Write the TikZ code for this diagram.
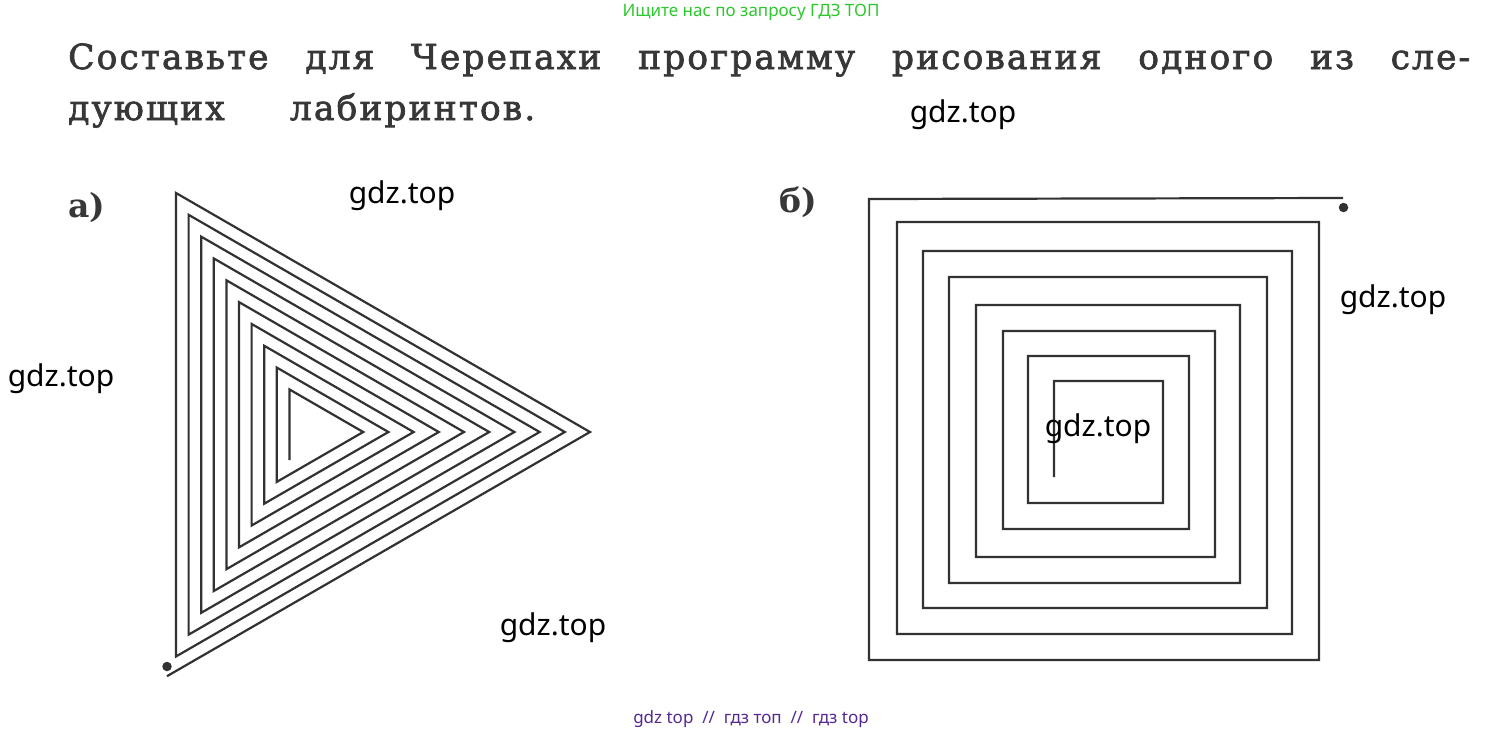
\documentclass[tikz,border=0pt]{standalone}
\usepackage{fontspec}
\setmainfont{DejaVu Serif}
\newfontfamily\titlefont[LetterSpace=6, FakeBold=2]{DejaVu Serif}
\newfontfamily\wmfont{Noto Sans}
\definecolor{ink}{RGB}{55,55,55}
\definecolor{mazecol}{RGB}{50,50,50}
\definecolor{wmgreen}{RGB}{45,200,45}
\definecolor{wmpurple}{RGB}{85,40,145}
\tikzset{
  mazeline/.style={draw=mazecol, line width=2.2pt, line join=miter},
  turtle/.style={circle, fill=mazecol, inner sep=0pt, minimum size=9.5pt},
  wm/.style={font=\wmfont\fontsize{30}{34}\selectfont, text=black, inner sep=0pt},
  titletext/.style={font=\titlefont\fontsize{34.5}{40}\selectfont, text=ink, inner sep=0pt, anchor=base west},
  itemlabel/.style={font=\bfseries\fontsize{33}{40}\selectfont, text=ink, inner sep=0pt, anchor=base west},
}
\begin{document}
\begin{tikzpicture}[x=1pt,y=-1pt]
\useasboundingbox[fill=white] (0,0) rectangle (1504,734);

% header watermark
\node[font=\wmfont\fontsize{17}{20}\selectfont, text=wmgreen, inner sep=0pt] (top) at (751,12) {Ищите нас по запросу ГДЗ ТОП};

% task text
\node[titletext] (l1) at (68,69) {\makebox[1402pt][s]{Составьте для Черепахи программу рисования одного из сле-}};
\node[titletext] (l2) at (68,120) {\makebox[467pt][s]{дующих лабиринтов.}};

\node[itemlabel] (la) at (68,217) {а)};
\node[itemlabel] (lb) at (779,212) {б)};

% triangle spiral
\foreach \k in {0,...,9} {
  \pgfmathsetmacro\xl{176+12.6*\k}
  \pgfmathsetmacro\xa{590-25.2*\k}
  \pgfmathsetmacro\yt{432-(\xa-\xl)*0.57735}
  \pgfmathsetmacro\yl{432+(\xa-25.2-\xl)*0.57735}
  \coordinate (A\k) at (\xa,432);
  \coordinate (T\k) at (\xl,\yt);
  \coordinate (L\k) at (\xl,\yl);
}
\coordinate (S) at (167,676.2);
\draw[mazeline] (S) \foreach \k in {0,...,9} { -- (A\k) -- (T\k) -- (L\k) };
\node[turtle] (dotA) at (167,666.5) {};

% square spiral
\coordinate (Q) at (1343,198);
\coordinate (E) at (1054,477);
\draw[mazeline] (Q) -- (869,199) -- (869,660) -- (1319,660) -- (1319,222)
  -- (897,222) -- (897,634) -- (1292,634) -- (1292,251)
  -- (923,251) -- (923,608) -- (1267,608) -- (1267,277)
  -- (949,277) -- (949,583) -- (1240,583) -- (1240,305)
  -- (976,305) -- (976,557) -- (1215,557) -- (1215,331)
  -- (1003,331) -- (1003,529) -- (1189,529) -- (1189,356)
  -- (1028,356) -- (1028,503) -- (1163,503) -- (1163,381)
  -- (1054,381) -- (E);
\node[turtle] (dotB) at (1343.5,207.5) {};

% watermarks
\node[wm] (w1) at (963,115) {gdz.top};
\node[wm] (w2) at (402,196) {gdz.top};
\node[wm] (w3) at (61,379) {gdz.top};
\node[wm] (w4) at (1393,300) {gdz.top};
\node[wm] (w5) at (1098,429) {gdz.top};
\node[wm] (w6) at (553,628) {gdz.top};

\node[font=\wmfont\fontsize{17}{20}\selectfont, text=wmpurple, inner sep=0pt] (bottom) at (751,719) {gdz top \ // \ гдз топ \ // \ гдз top};
\end{tikzpicture}
\end{document}
